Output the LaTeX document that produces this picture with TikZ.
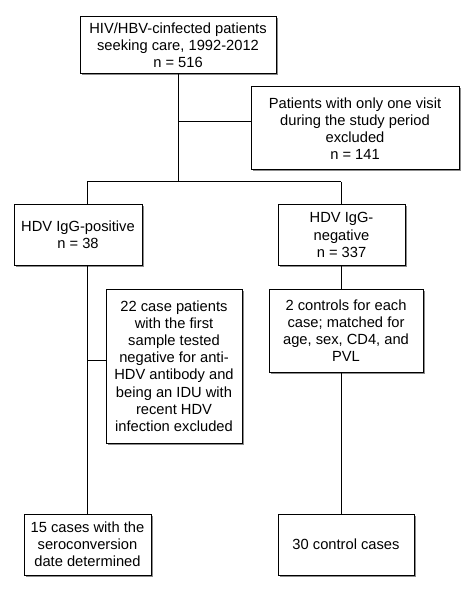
\documentclass[tikz,border=0pt]{standalone}
\usepackage{fontspec}
\setmainfont{Liberation Sans}
\usetikzlibrary{shadows}
\begin{document}
\begin{tikzpicture}[x=1pt,y=-1pt,
  box/.style={draw=black, line width=1pt, fill=white, align=center, inner sep=2pt,
    font=\fontsize{14.7}{17.2}\selectfont,
    drop shadow={shadow xshift=1.5pt, shadow yshift=-1.5pt, fill=black!45, opacity=1}},
  conn/.style={draw=black, line width=1pt}]
\useasboundingbox[fill=white] (0,0) rectangle (472,593);
\node[box, minimum width=196pt, minimum height=57pt] (top) at (178,45.5)
  {HIV/HBV-cinfected patients\\seeking care, 1992-2012\\n = 516};
\node[box, minimum width=208pt, minimum height=83pt] (excl) at (355,128.5)
  {Patients with only one visit\\during the study period\\excluded\\n = 141};
\node[box, minimum width=128pt, minimum height=60pt] (pos) at (78,235)
  {HDV IgG-positive\\n = 38};
\node[box, minimum width=127pt, minimum height=60pt] (neg) at (341.5,235)
  {HDV IgG-\\negative\\n = 337};
\node[box, minimum width=136pt, minimum height=154pt] (case) at (174,366)
  {22 case patients\\with the first\\sample tested\\negative for anti-\\HDV antibody and\\being an IDU with\\recent HDV\\infection excluded};
\node[box, minimum width=154pt, minimum height=83pt] (ctrl) at (346,330.5)
  {2 controls for each\\case; matched for\\age, sex, CD4, and\\PVL};
\node[box, minimum width=127pt, minimum height=61pt] (fin15) at (87.5,544.5)
  {15 cases with the\\seroconversion\\date determined};
\node[box, minimum width=136pt, minimum height=61pt] (fin30) at (346,544.5)
  {30 control cases};
\coordinate (bl) at (87,182);
\coordinate (br) at (341,182);
\coordinate (jt) at (178.5,182);
\coordinate (je) at (178.5,122);
\coordinate (jc) at (87,360);
\draw[conn] (top.south -| jt) -- (jt);
\draw[conn] (bl) -- (br);
\draw[conn] (je) -- (excl.west |- je);
\draw[conn] (bl) -- (bl |- pos.north);
\draw[conn] (br) -- (br |- neg.north);
\draw[conn] (bl |- pos.south) -- (bl |- fin15.north);
\draw[conn] (jc) -- (case.west |- jc);
\draw[conn] (br |- neg.south) -- (br |- ctrl.north);
\draw[conn] (br |- ctrl.south) -- (br |- fin30.north);
\end{tikzpicture}
\end{document}
